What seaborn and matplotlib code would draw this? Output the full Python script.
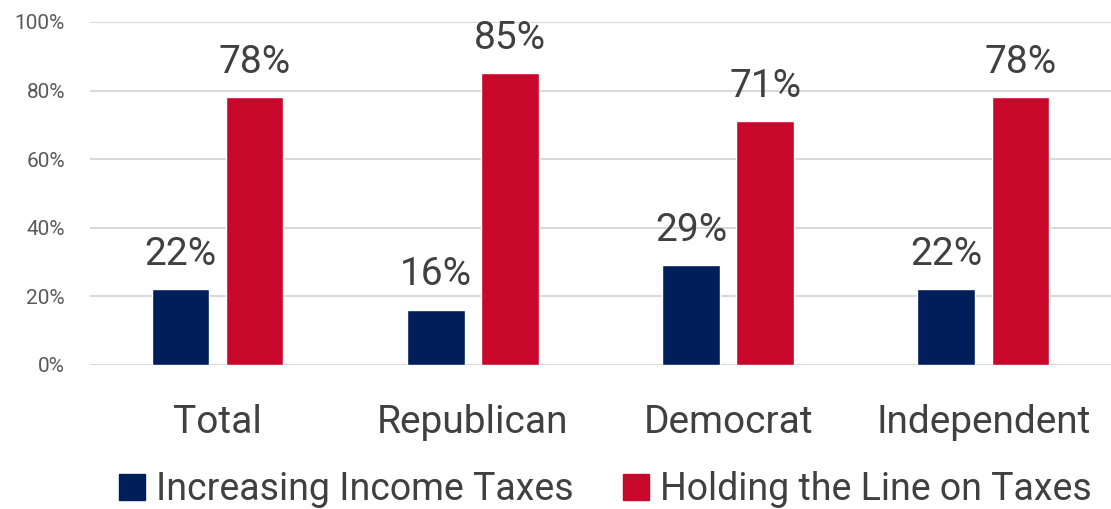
import pandas as pd
import matplotlib.pyplot as plt
import seaborn as sns
from matplotlib.ticker import PercentFormatter
from matplotlib.patches import Patch

groups = ['Total', 'Republican', 'Democrat', 'Independent']
increasing = [22, 16, 29, 22]
holding = [78, 85, 71, 78]
series = ['Increasing Income Taxes', 'Holding the Line on Taxes']
colors = ['#001E5A', '#C8082A']

df = pd.DataFrame({
    'group': groups * 2,
    'value': increasing + holding,
    'series': [series[0]] * 4 + [series[1]] * 4,
})

sns.set_style('white')
plt.rcParams['font.family'] = ['Roboto', 'DejaVu Sans']

fig = plt.figure(figsize=(11.11, 5.09), dpi=100)
ax = fig.add_axes([0.081, 0.283, 0.919, 0.674])

sns.barplot(data=df, x='group', y='value', hue='series', palette=colors,
            saturation=1, width=0.58, gap=0.22, ax=ax, legend=False)

for cont in ax.containers:
    ax.bar_label(cont, labels=[f'{v:.0f}%' for v in cont.datavalues],
                 padding=12, fontsize=28, color='#404040')

ax.set_ylim(0, 100)
ax.set_xlim(-0.5, 3.5)
ax.set_yticks(range(0, 101, 20))
ax.yaxis.set_major_formatter(PercentFormatter(decimals=0))
ax.grid(axis='y', color='#D9D9D9', linewidth=1.5)
ax.set_axisbelow(True)
sns.despine(ax=ax, left=True, bottom=True)
ax.tick_params(axis='y', length=0, labelsize=15, labelcolor='#595959', pad=18)
ax.tick_params(axis='x', length=0, labelsize=28, labelcolor='#404040', pad=28)
ax.set_xlabel('')
ax.set_ylabel('')

handles = [Patch(color=c, label=s) for c, s in zip(colors, series)]
fig.legend(handles=handles, loc='lower center', bbox_to_anchor=(0.545, -0.065),
           ncol=2, frameon=False, fontsize=27, labelcolor='#404040',
           handlelength=0.7, handleheight=0.7, handletextpad=0.3, columnspacing=1.3)

fig.savefig('out.png', dpi=100)
